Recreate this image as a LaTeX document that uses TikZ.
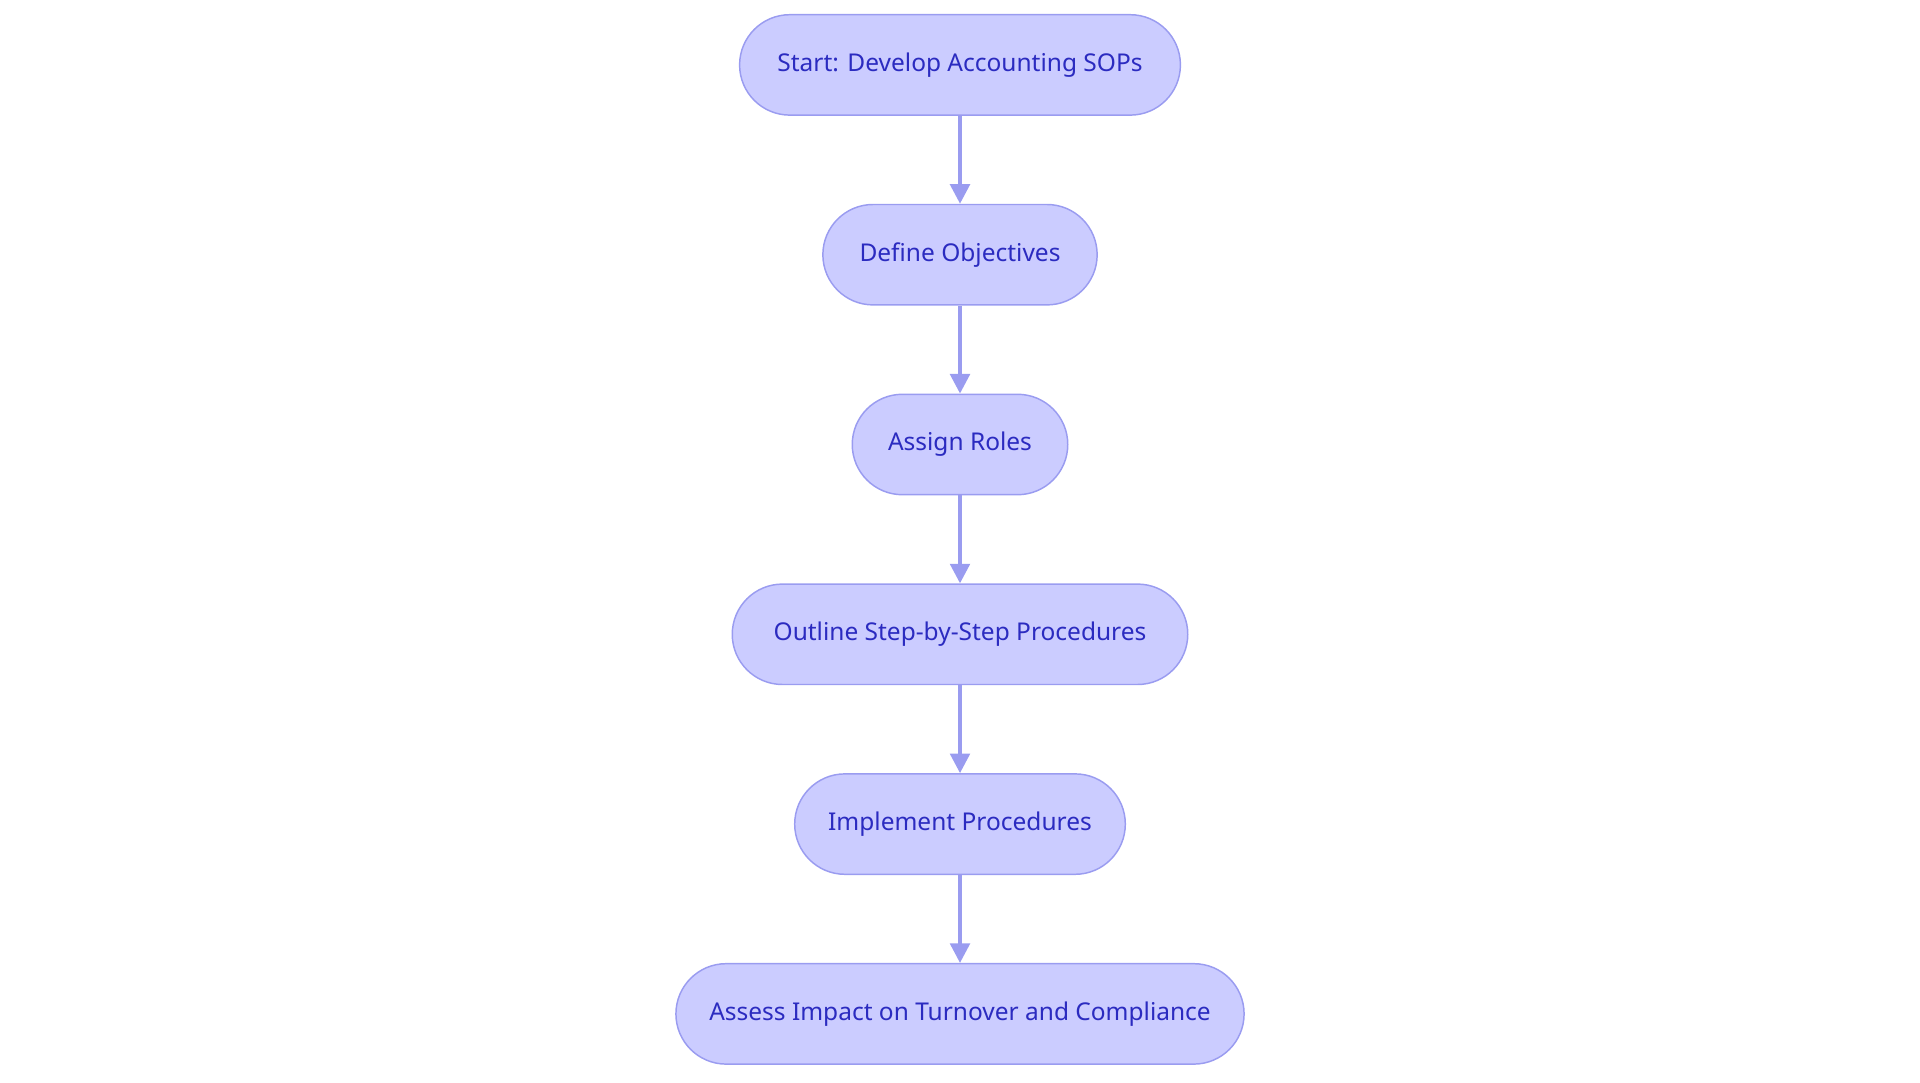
\documentclass[tikz,border=0pt]{standalone}
\usepackage{fontspec}
\setmainfont{Noto Sans}
\usetikzlibrary{arrows.meta}
\definecolor{nfill}{HTML}{CBCCFF}
\definecolor{nline}{HTML}{9A9CF0}
\definecolor{ntext}{HTML}{2B2BC0}
\begin{document}
\begin{tikzpicture}[x=0.5pt,y=-0.5pt,
  pill/.style={draw=nline,line width=0.6pt,fill=nfill,rounded corners=20.5pt,minimum height=41pt,text=ntext,font=\fontsize{10}{12}\selectfont,inner sep=0pt},
  conn/.style={draw=nline,line width=1.5pt,-{Triangle[length=8pt,width=8pt]}}]
\useasboundingbox (0,0) rectangle (1568,884);
\node[pill,minimum width=180pt] (a) at (784,53) {Start: Develop Accounting SOPs};
\node[pill,minimum width=112pt] (b) at (784,208) {Define Objectives};
\node[pill,minimum width=88pt] (c) at (784,363) {Assign Roles};
\node[pill,minimum width=186pt] (d) at (784,518) {Outline Step-by-Step Procedures};
\node[pill,minimum width=135pt] (e) at (784,673) {Implement Procedures};
\node[pill,minimum width=232pt] (f) at (784,828) {Assess Impact on Turnover and Compliance};
\draw[conn] (a) -- (b);
\draw[conn] (b) -- (c);
\draw[conn] (c) -- (d);
\draw[conn] (d) -- (e);
\draw[conn] (e) -- (f);
\end{tikzpicture}
\end{document}
